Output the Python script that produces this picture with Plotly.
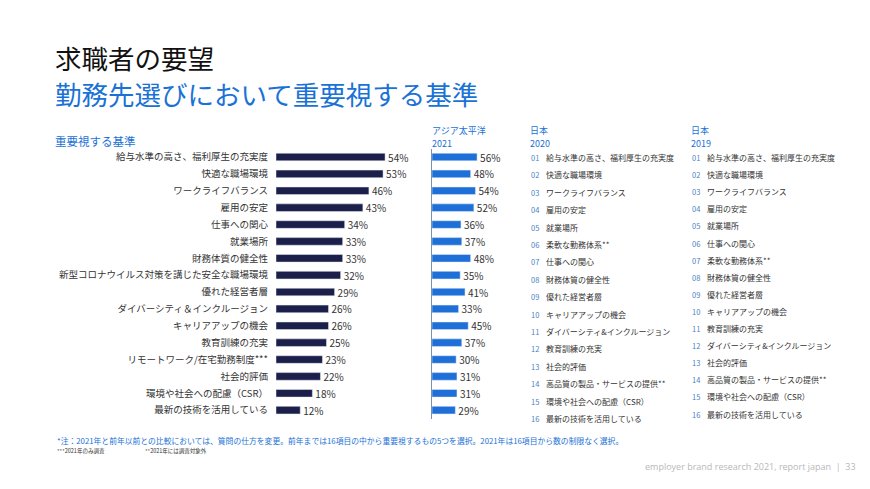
import plotly.graph_objects as go

W, H = 870, 489

criteria = [
    "給与水準の高さ、福利厚生の充実度", "快適な職場環境", "ワークライフバランス", "雇用の安定",
    "仕事への関心", "就業場所", "財務体質の健全性", "新型コロナウイルス対策を講じた安全な職場環境",
    "優れた経営者層", "ダイバーシティ＆インクルージョン", "キャリアアップの機会", "教育訓練の充実",
    "リモートワーク/在宅勤務制度***", "社会的評価", "環境や社会への配慮（CSR）", "最新の技術を活用している",
]
japan_2021 = [54, 53, 46, 43, 34, 33, 33, 32, 29, 26, 26, 25, 23, 22, 18, 12]
apac_2021 = [56, 48, 54, 52, 36, 37, 48, 35, 41, 33, 45, 37, 30, 31, 31, 29]

japan_2020 = [
    "給与水準の高さ、福利厚生の充実度", "快適な職場環境", "ワークライフバランス", "雇用の安定",
    "就業場所", "柔軟な勤務体系**", "仕事への関心", "財務体質の健全性", "優れた経営者層",
    "キャリアアップの機会", "ダイバーシティ&インクルージョン", "教育訓練の充実", "社会的評価",
    "高品質の製品・サービスの提供**", "環境や社会への配慮（CSR）", "最新の技術を活用している",
]
japan_2019 = [
    "給与水準の高さ、福利厚生の充実度", "快適な職場環境", "ワークライフバランス", "雇用の安定",
    "就業場所", "仕事への関心", "柔軟な勤務体系**", "財務体質の健全性", "優れた経営者層",
    "キャリアアップの機会", "教育訓練の充実", "ダイバーシティ&インクルージョン", "社会的評価",
    "高品質の製品・サービスの提供**", "環境や社会への配慮（CSR）", "最新の技術を活用している",
]

FONT = "Noto Sans CJK JP"
NAVY = "#1b1f4a"
BLUE = "#1f6fd8"
TBLUE = "#1a72d6"
DARK = "#333333"

def px(x):
    return x / W

def py(y):
    return 1 - y / H

idx = list(range(len(criteria)))
ytop, ybot = 148.6, 418.6

fig = go.Figure()
fig.add_trace(go.Bar(
    x=japan_2021, y=idx, orientation="h", marker_color=NAVY, width=0.45,
    text=[f"{v}%" for v in japan_2021], textposition="outside", cliponaxis=False,
    constraintext="none",
    textfont=dict(size=10, color=DARK, family=FONT), xaxis="x", yaxis="y", showlegend=False,
))
fig.add_trace(go.Bar(
    x=apac_2021, y=idx, orientation="h", marker_color=BLUE, width=0.45,
    text=[f"{v}%" for v in apac_2021], textposition="outside", cliponaxis=False,
    constraintext="none",
    textfont=dict(size=10, color=DARK, family=FONT), xaxis="x2", yaxis="y2", showlegend=False,
))

fig.update_layout(
    width=W, height=H, margin=dict(l=0, r=0, t=0, b=0),
    paper_bgcolor="white", plot_bgcolor="white",
    font=dict(family=FONT, color=DARK),
    uniformtext=dict(mode=False),
    xaxis=dict(domain=[px(276), px(420)], range=[0, 144 / 2.02], visible=False, fixedrange=True),
    xaxis2=dict(domain=[px(432), px(530)], range=[0, 98 / 0.805], visible=False, fixedrange=True),
    yaxis=dict(domain=[py(ybot), py(ytop)], range=[15.5, -0.5], anchor="x",
               tickvals=idx, ticktext=criteria, ticks="", showgrid=False, zeroline=False,
               showline=False, ticklabelstandoff=7, tickfont=dict(size=9.5, color=DARK, family=FONT)),
    yaxis2=dict(domain=[py(ybot), py(ytop)], range=[15.5, -0.5], anchor="x2",
                showticklabels=False, ticks="", showgrid=False, zeroline=False,
                showline=True, linecolor="#7b8fb5", linewidth=1),
)

ann = []
ann.append(dict(text="求職者の要望", x=px(53), y=py(57), font=dict(size=26.5, color="#111111", family=FONT)))
ann.append(dict(text="勤務先選びにおいて重要視する基準", x=px(53), y=py(94), font=dict(size=26.5, color=TBLUE, family=FONT)))
ann.append(dict(text="重要視する基準", x=px(53), y=py(141), font=dict(size=11.5, color=TBLUE, family=FONT)))
for x0, l1, l2 in [(430, "アジア太平洋", "2021"), (528, "日本", "2020"), (689, "日本", "2019")]:
    ann.append(dict(text=l1, x=px(x0), y=py(130), font=dict(size=9, color=TBLUE, family=FONT)))
    ann.append(dict(text=l2, x=px(x0), y=py(143), font=dict(size=9, color=TBLUE, family=FONT)))

for col_x, lst, y0, step in [(529, japan_2020, 157.5, 17.4), (690, japan_2019, 157.5, 17.1)]:
    for i, name in enumerate(lst):
        yy = y0 + i * step
        ann.append(dict(text=f"{i + 1:02d}", x=px(col_x), y=py(yy), font=dict(size=7.5, color="#4d7fc4", family=FONT)))
        ann.append(dict(text=name, x=px(col_x + 15), y=py(yy), font=dict(size=8, color=DARK, family=FONT)))

ann.append(dict(
    text="*注：2021年と前年以前との比較においては、質問の仕方を変更。前年までは16項目の中から重要視するもの5つを選択。2021年は16項目から数の制限なく選択。",
    x=px(55), y=py(440), font=dict(size=7.8, color=TBLUE, family=FONT)))
ann.append(dict(text="***2021年のみ調査", x=px(55), y=py(451), font=dict(size=5.5, color=DARK, family=FONT)))
ann.append(dict(text="**2021年には調査対象外", x=px(143), y=py(451), font=dict(size=5.5, color=DARK, family=FONT)))
ann.append(dict(text="employer brand research 2021, report japan  |  33", x=px(858), y=py(466),
                xanchor="right", font=dict(size=9, color="#b8b8b8", family="Open Sans")))

for a in ann:
    a.setdefault("xanchor", "left")
    a.update(xref="paper", yref="paper", yanchor="middle", showarrow=False)
fig.update_layout(annotations=ann)

fig.write_html("out.html")
